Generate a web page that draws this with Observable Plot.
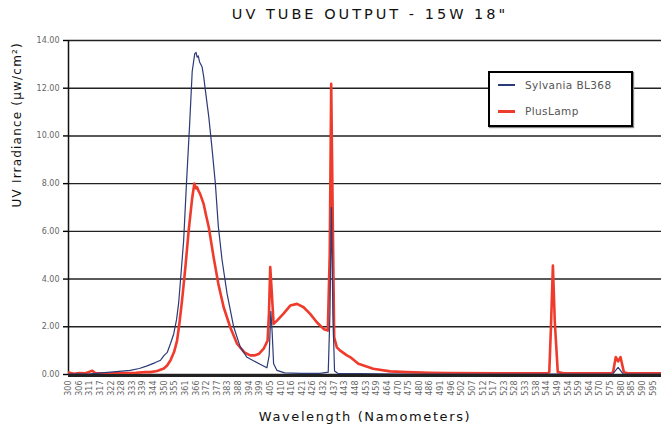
<!DOCTYPE html>
<html>
<head>
<meta charset="utf-8">
<script src="https://cdn.jsdelivr.net/npm/d3@7"></script>
<script src="https://cdn.jsdelivr.net/npm/@observablehq/plot@0.6"></script>
<style>
  body { margin: 0; background: #fff; font-family: "DejaVu Sans", sans-serif; }
  #wrap { position: relative; width: 662px; height: 431px; }
  #title { position: absolute; top: 6px; left: 370px; transform: translateX(-50%); white-space: nowrap;
           font-size: 14.5px; letter-spacing: 3px; color: #111; }
  #chart { position: absolute; top: 30px; left: 0; }
  #legend { position: absolute; left: 488px; top: 71px; width: 141px; height: 52px; background: #fff;
            border: 2px solid #000; box-shadow: 1px 1px 1px #888; }
  .li { position: absolute; left: 8px; display: flex; align-items: center; font-size: 10.5px; color: #555; letter-spacing: 0.4px; }
  .sw { width: 17px; margin-right: 10px; }
</style>
</head>
<body>
<div id="wrap">
  <div id="title">UV TUBE OUTPUT - 15W 18"</div>
  <div id="chart"></div>
  <div id="legend">
    <div class="li" style="top:6px"><div class="sw" style="height:1.5px;background:#2b3a78"></div>Sylvania BL368</div>
    <div class="li" style="top:32px"><div class="sw" style="height:3px;background:#ef3b2c"></div>PlusLamp</div>
  </div>
</div>
<script>
// Tick labels (nm) along the wavelength axis, evenly spaced in the chart
const tickLabels = [300,306,311,317,322,328,333,339,344,350,355,361,366,372,377,383,388,394,399,405,410,416,421,426,432,437,443,448,453,459,464,470,475,480,486,491,496,502,507,512,517,523,528,533,538,544,549,554,559,564,570,575,580,585,590,595];

const yTicks = [0,2,4,6,8,10,12,14];

// Sylvania BL368 (nm, µW/cm²)
const sylvaniaWl  = [300,305,310,315,319,325,332,337,341,345,348,350,351.5,353,354.5,356,357.2,358.5,360,361.5,363,364.2,365.4,366,366.6,367.3,368,369.4,370.3,371.3,373,374.5,376.1,377.6,379.7,382.5,385.7,389,392.8,398.7,403,404.3,405.2,405.8,406.5,408.1,412,420,430,434.2,435,435.7,436.4,437.2,439,450,470,500,540,576,578.6,581,598.5];
const sylvaniaVal = [0.02,0.03,0.02,0.05,0.08,0.12,0.17,0.25,0.36,0.5,0.6,0.8,0.93,1.3,1.7,2.3,3.0,4.2,5.6,8.0,10.5,12.7,13.45,13.5,13.3,13.35,13.1,12.9,12.5,11.9,10.8,9.5,8.0,6.2,4.8,3.4,2.0,1.15,0.72,0.45,0.28,0.8,2.65,1.8,0.45,0.17,0.07,0.05,0.05,0.1,2.5,7.0,2.5,0.15,0.05,0.04,0.02,0.02,0.02,0.02,0.3,0.02,0.02];

// PlusLamp (nm, µW/cm²)
const plusWl  = [300,303,306,309,311,312.4,314,318,325,330,335,340,342.5,346,349.8,351.4,353,354.7,356.3,357.7,359.1,361,362.5,364.2,365.2,366,366.6,367.4,368.3,370.3,371.6,373,375.3,377.6,380.6,384.1,387.3,391.3,394.5,396.5,398.7,401.2,403.4,404.2,404.9,405.6,406.5,408.1,411.4,415.2,418.5,421.6,424.7,428.2,432,434,434.9,435.6,436.4,437,438.5,440.4,444,445.5,449.4,457,465.6,474.2,486,495,520,544,545.2,546,546.9,547.8,549.2,552,575,576.2,577.5,578.6,579.7,581.3,583,598.5];
const plusVal = [0.08,0.03,0.06,0.05,0.12,0.16,0.06,0.04,0.05,0.06,0.07,0.1,0.1,0.15,0.25,0.38,0.6,0.95,1.42,2.2,3.1,4.5,6.0,7.4,8.0,7.8,7.85,7.7,7.57,7.15,6.7,6.17,4.9,3.8,2.82,1.98,1.29,0.93,0.8,0.8,0.87,1.08,1.42,2.6,4.5,3.5,2.12,2.26,2.55,2.89,2.96,2.82,2.54,2.19,1.91,1.84,5,12.18,6,1.56,1.14,1.0,0.8,0.73,0.45,0.24,0.13,0.1,0.07,0.06,0.05,0.05,0.1,2.0,4.57,2.2,0.1,0.05,0.05,0.1,0.73,0.55,0.73,0.1,0.05,0.05];

// wavelength -> evenly spaced label position
const toPos = d3.scaleLinear().domain(tickLabels).range(tickLabels.map((_, i) => i));

const sylvania = sylvaniaWl.map((w, i) => ({pos: toPos(w), v: sylvaniaVal[i]}));
const plus = plusWl.map((w, i) => ({pos: toPos(w), v: plusVal[i]}));

const font = "DejaVu Sans, sans-serif";

const chart = Plot.plot({
  width: 662,
  height: 401,
  marginLeft: 68,
  marginRight: 1,
  marginTop: 10,
  marginBottom: 57,
  style: {fontFamily: font, background: "#fff"},
  x: {domain: [0, 55.8], axis: null, label: null},
  y: {domain: [0, 14], axis: null, label: null},
  marks: [
    Plot.gridY(yTicks, {stroke: "#222", strokeOpacity: 1, strokeWidth: 1.4}),
    Plot.axisY(yTicks, {label: null, tickFormat: d => d.toFixed(2), tickSize: 5, tickPadding: 4, fontSize: 8, fill: "#666", stroke: "#000", strokeWidth: 1.4}),
    Plot.axisX(d3.range(tickLabels.length), {label: null, tickFormat: i => tickLabels[i], tickSize: 0, tickPadding: 6, tickRotate: -90, fontSize: 8, fill: "#666"}),
    Plot.ruleX([0], {stroke: "#111", strokeWidth: 1.5}),
    Plot.lineY(plus, {x: "pos", y: "v", stroke: "#ef3b2c", strokeWidth: 2.6, clip: true}),
    Plot.lineY(sylvania, {x: "pos", y: "v", stroke: "#2b3a78", strokeWidth: 1.2, clip: true}),
    Plot.ruleY([0], {stroke: "#222", strokeWidth: 3, dy: 1}),
    Plot.text(["UV Irradiance (µw/cm²)"], {frameAnchor: "left", dx: -51, rotate: -90, fontSize: 12, fill: "#111"}),
    Plot.text(["Wavelength (Namometers)"], {frameAnchor: "bottom", dy: 46, fontSize: 13, fill: "#111", fontWeight: 500})
  ]
});
chart.querySelectorAll("text").forEach(t => {
  if (t.textContent === "Wavelength (Namometers)") t.style.letterSpacing = "1.6px";
  if (t.textContent === "UV Irradiance (µw/cm²)") t.style.letterSpacing = "1.2px";
});
document.getElementById("chart").appendChild(chart);
</script>
</body>
</html>
